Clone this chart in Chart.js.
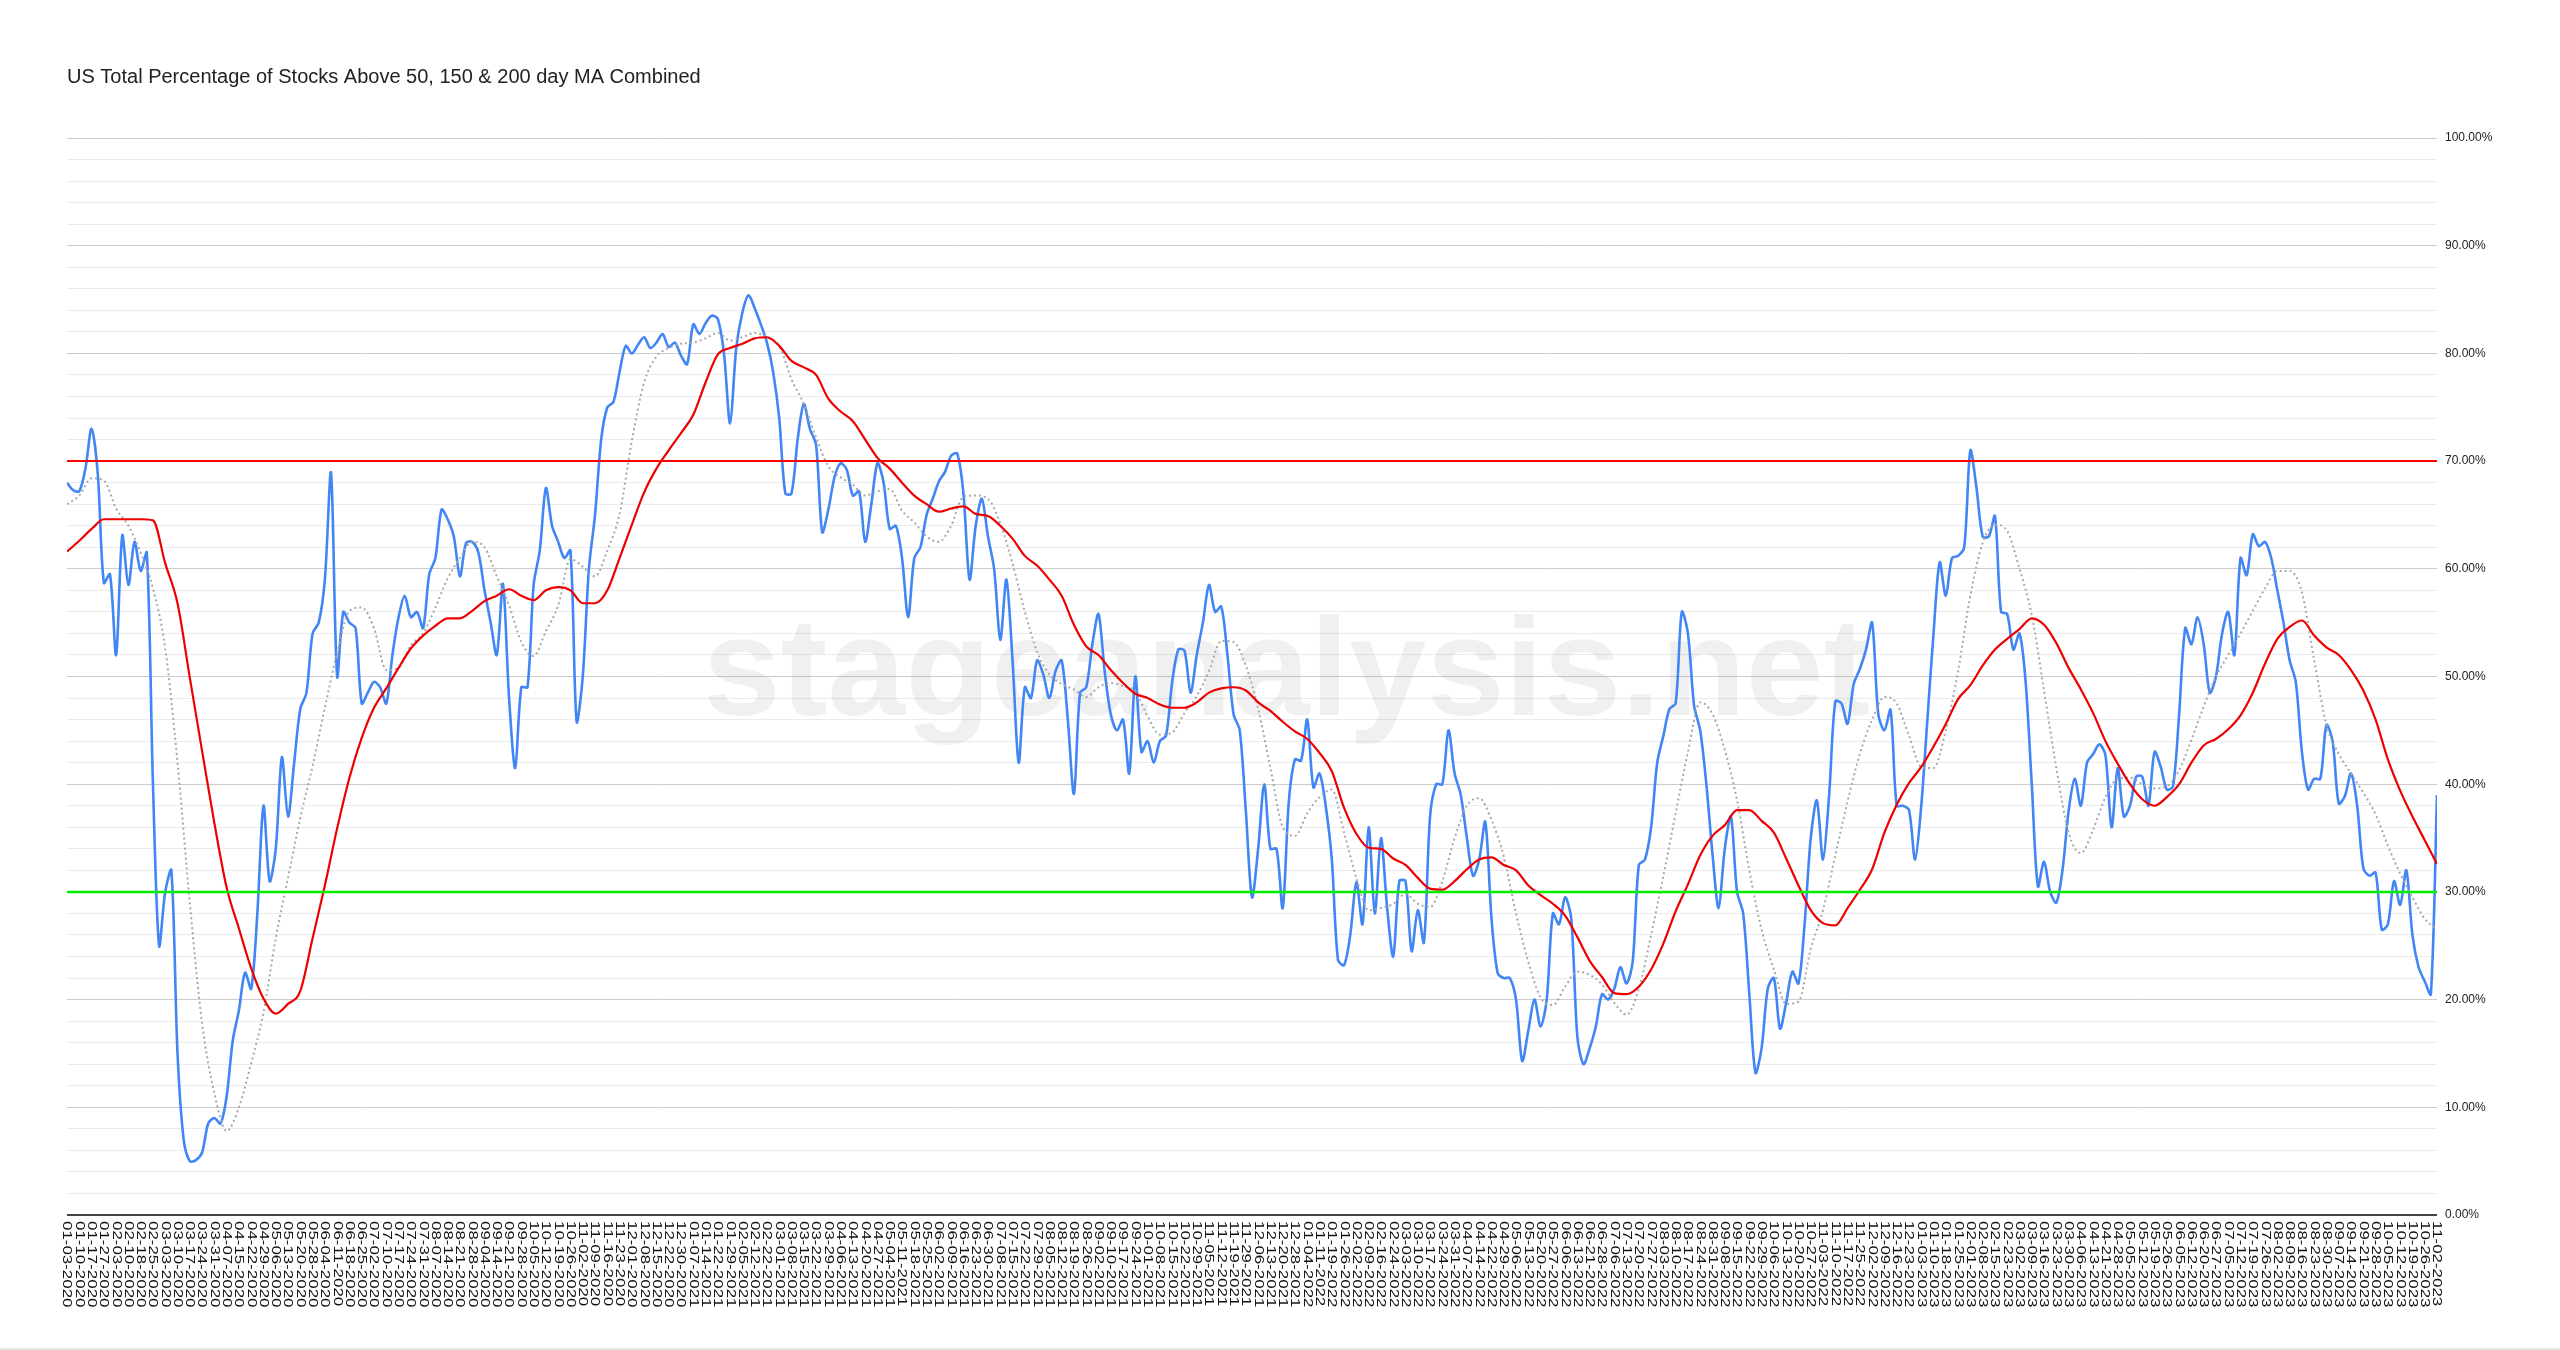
<!DOCTYPE html>
<html>
<head>
<meta charset="utf-8">
<title>US Total Percentage of Stocks Above 50, 150 & 200 day MA Combined</title>
<script src="https://cdn.jsdelivr.net/npm/chart.js@4.4.1/dist/chart.umd.min.js"></script>
<style>
  html, body { margin: 0; padding: 0; background: #fff; }
  canvas { display: block; }
</style>
</head>
<body>
<canvas id="breadthChart" width="2560" height="1350"></canvas>
<script>
// weekly axis labels (every 5th trading day)
const weekLabels = [
  "01-03-2020","01-10-2020","01-17-2020","01-27-2020","02-03-2020","02-10-2020","02-18-2020","02-25-2020","03-03-2020","03-10-2020",
  "03-17-2020","03-24-2020","03-31-2020","04-07-2020","04-15-2020","04-22-2020","04-29-2020","05-06-2020","05-13-2020","05-20-2020",
  "05-28-2020","06-04-2020","06-11-2020","06-18-2020","06-25-2020","07-02-2020","07-10-2020","07-17-2020","07-24-2020","07-31-2020",
  "08-07-2020","08-14-2020","08-21-2020","08-28-2020","09-04-2020","09-14-2020","09-21-2020","09-28-2020","10-05-2020","10-12-2020",
  "10-19-2020","10-26-2020","11-02-2020","11-09-2020","11-16-2020","11-23-2020","12-01-2020","12-08-2020","12-15-2020","12-22-2020",
  "12-30-2020",
  "01-07-2021","01-14-2021","01-22-2021","01-29-2021","02-05-2021","02-12-2021","02-22-2021","03-01-2021","03-08-2021","03-15-2021",
  "03-22-2021","03-29-2021","04-06-2021","04-13-2021","04-20-2021","04-27-2021","05-04-2021","05-11-2021","05-18-2021","05-25-2021",
  "06-02-2021","06-09-2021","06-16-2021","06-23-2021","06-30-2021","07-08-2021","07-15-2021","07-22-2021","07-29-2021","08-05-2021",
  "08-12-2021","08-19-2021","08-26-2021","09-02-2021","09-10-2021","09-17-2021","09-24-2021","10-01-2021","10-08-2021","10-15-2021",
  "10-22-2021","10-29-2021","11-05-2021","11-12-2021","11-19-2021","11-29-2021","12-06-2021","12-13-2021","12-20-2021","12-28-2021",
  "01-04-2022","01-11-2022","01-19-2022","01-26-2022","02-02-2022","02-09-2022","02-16-2022","02-24-2022","03-03-2022","03-10-2022",
  "03-17-2022","03-24-2022","03-31-2022","04-07-2022","04-14-2022","04-22-2022","04-29-2022","05-06-2022","05-13-2022","05-20-2022",
  "05-27-2022","06-06-2022","06-13-2022","06-21-2022","06-28-2022","07-06-2022","07-13-2022","07-20-2022","07-27-2022","08-03-2022",
  "08-10-2022","08-17-2022","08-24-2022","08-31-2022","09-08-2022","09-15-2022","09-22-2022","09-29-2022","10-06-2022","10-13-2022",
  "10-20-2022","10-27-2022","11-03-2022","11-10-2022","11-17-2022","11-25-2022","12-02-2022","12-09-2022","12-16-2022","12-23-2022",
  "01-03-2023","01-10-2023","01-18-2023","01-25-2023","02-01-2023","02-08-2023","02-15-2023","02-23-2023","03-02-2023","03-09-2023",
  "03-16-2023","03-23-2023","03-30-2023","04-06-2023","04-13-2023","04-21-2023","04-28-2023","05-05-2023","05-12-2023","05-19-2023",
  "05-26-2023","06-05-2023","06-12-2023","06-20-2023","06-27-2023","07-05-2023","07-12-2023","07-19-2023","07-26-2023","08-02-2023",
  "08-09-2023","08-16-2023","08-23-2023","08-30-2023","09-07-2023","09-14-2023","09-21-2023","09-28-2023","10-05-2023","10-12-2023",
  "10-19-2023","10-26-2023","11-02-2023"
];

const breadth2020 = [
  68.0, 67.3, 67.2, 69.3, 73, 68.9, 58.7, 59.5, 52, 63.1,
  58.5, 62.5, 59.8, 61.5, 40, 25, 30, 32, 15, 7,
  5, 5.1, 5.8, 8.5, 9, 8.5, 11, 16.2, 19, 22.5,
  21, 28, 38, 31, 34, 42.5, 37, 42, 47, 48.5,
  54, 55, 59, 68.9, 50, 56, 55, 54.5, 47.5, 48.5,
  49.5, 49, 47.5, 52, 55.5, 57.5, 55.5, 56, 54.5, 59.5,
  61, 65.5, 64.6, 63, 59.3, 62.4, 62.5, 61.5, 58, 55,
  52, 58.6, 48, 41.5, 49, 49, 58.5, 61.7, 67.5, 64,
  62.5, 61, 61.7, 45.8, 50, 60, 65, 72, 75, 75.5,
  78.3, 80.7, 80, 80.8, 81.5, 80.5, 81, 81.8, 80.6, 81,
  79.8, 79
];
const breadth2021 = [
  82.7, 81.8, 82.8, 83.5, 83.2, 80, 73.5, 80.5,
  83.8, 85.4, 84.2, 82.7, 81, 78.3, 74, 67, 67, 72,
  75.3, 73, 71.5, 63.4, 65.5, 68.5, 69.8, 69.2, 66.8, 67.2,
  62.5, 66, 69.8, 68, 63.7, 64, 61, 55.5, 61, 62,
  65, 66.5, 68.1, 69, 70.5, 70.7, 67, 59, 64, 66.5,
  63, 60, 53.4, 59, 51.5, 42, 49, 48, 51.5, 50.2,
  48, 50.5, 51.5, 46, 39.1, 48.5, 49, 53, 55.8, 50.5,
  46.5, 45, 46, 41, 50, 43, 44, 42, 44, 44.5,
  49.5, 52.5, 52.4, 48.5, 52, 55, 58.5, 56, 56.5, 52,
  46.5, 45, 37.5, 29.5, 34, 40, 34, 34, 28.5, 38.4,
  42.3, 42.2
];
const breadth2022 = [
  46, 39.7, 41, 38, 33, 23.7, 23.2, 26,
  30.9, 27, 36, 28, 35, 28.6, 24, 31, 31, 24.5,
  28.3, 25.3, 37, 40, 40, 45, 41, 39, 35, 31.5,
  33, 36.5, 27.6, 22.5, 22, 22, 20, 14.3, 17.1, 20,
  17.5, 20, 28, 27, 29.5, 27.5, 16.5, 14, 15.5, 17.5,
  20.5, 20, 21, 23, 21.5, 23.5, 32.5, 33, 36, 42,
  44.5, 47, 47.5, 56, 54, 47.3, 45, 40, 33.5, 28.5,
  34, 37, 30, 28, 20.5, 13.2, 15.5, 21, 22, 17.3,
  19.7, 22.6, 21.5, 27, 35, 38.5, 33, 39, 47.7, 47.5,
  45.6, 49.3, 50.7, 52.5, 55, 46.5, 45, 46.9, 38, 38,
  37.6, 33
];
const breadth2023 = [
  38, 46, 54, 60.6, 57.5, 61, 61.2, 62,
  71, 67.5, 63, 63, 64.9, 56, 55.8, 52.5, 54, 49.5,
  40, 30.5, 32.8, 30, 29, 32, 37.5, 40.5, 38, 42,
  42.8, 43.7, 42.7, 36, 41.5, 37, 38, 40.7, 40.7, 38,
  43, 41.6, 39.5, 39.8, 46.5, 54.5, 53, 55.5, 53, 48.5,
  50, 54, 56, 52, 61, 59.4, 63.2, 62.1, 62.5, 61,
  58, 55, 51.5, 49.5, 43, 39.5, 40.5, 40.5, 45.5, 44,
  38.2, 38.9, 41, 38, 32.2, 31.5, 31.8, 26.5, 27, 31,
  28.8, 32, 26, 23, 21.7, 20.5, 39
];

// short moving average (grey dotted), one value per labelled week
const fastMA = [
  66, 66.8, 68.4, 68.2, 65.6, 64, 61.5, 58.2, 52.6, 42,
  29, 17.8, 11.3, 7.8, 10, 14.1, 18.8, 25.7, 31.3, 36.9,
  41.7, 47.1, 52.2, 56.1, 56.4, 54.5, 50.6, 50.8, 52.9, 54,
  56.4, 59.1, 61, 62.5, 62, 59.3, 56.6, 53.2, 51.9, 54.2,
  56.6, 60.9, 60.2, 59.3, 61.7, 65.1, 71.9, 77.3, 79.7, 80.5,
  80.9,
  81, 81.4, 81.9, 81.2, 81.5, 81.9, 81.5, 80.7, 77.6, 75.3,
  72.2, 69.5, 68.5, 67.8, 66.8, 67.2, 67.4, 65.4, 64.3, 63,
  62.5, 64, 66.7, 66.8, 66.5, 64.2, 60.5, 56, 52.3, 50.2,
  49.3, 48.8, 48.1, 49, 49.4, 49.1, 48.6, 46.3, 44.6, 44.8,
  46.6, 48.2, 50.5, 53.3, 53.2, 51, 47, 41.5, 36, 35.2,
  37.3, 38.8, 39.5, 35.5, 31.3, 28.3, 28.5, 28.9, 29.8, 28.9,
  28.6, 31, 35, 38, 38.7, 36.7, 33.3, 28, 23.5, 20.2,
  19.5, 21.2, 22.6, 22.3, 21.4, 19.7, 18.6, 21, 26, 31.5,
  37.3, 43, 47.6, 46.5, 43.2, 38.5, 32, 26.5, 22.8, 19.6,
  19.8, 24.7, 28.3, 33.4, 38.4, 42.8, 46, 48.1, 47.5, 44.5,
  41.6, 41.5, 45, 50.5, 57.5, 62.4, 64.1, 63.5, 60, 55.7,
  48.7, 41.5, 35.5, 33.6, 35.8, 38.8, 40.5, 40.6, 40, 39.6,
  39.8, 41.3, 44.1, 47.2, 50, 52, 54, 56.1, 58.2, 59.8,
  59.8, 57.8, 51.5, 45.5, 42.8, 41, 39.2, 37.2, 34.3, 31.7,
  29.5, 27.5, 26.5
];

// long moving average (red), one value per labelled week
const slowMA = [
  61.6, 62.6, 63.7, 64.6, 64.6, 64.6, 64.6, 64.5, 60.5, 56.8,
  49.9, 43.1, 36.4, 30.4, 26.6, 22.9, 20.1, 18.7, 19.6, 20.8,
  25.7, 30.6, 35.9, 40.6, 44.3, 47.1, 48.9, 50.8, 52.6, 53.8,
  54.7, 55.4, 55.4, 56.1, 57, 57.5, 58.1, 57.5, 57.1, 58,
  58.3, 58, 56.8, 56.8, 58, 61, 64.1, 67.1, 69.3, 71,
  72.6,
  74.3, 77.3, 79.9, 80.5, 80.9, 81.4, 81.5, 80.7, 79.3, 78.7,
  78, 75.8, 74.6, 73.7, 72, 70.3, 69.3, 68, 66.8, 66,
  65.3, 65.6, 65.8, 65.1, 64.9, 64, 62.8, 61.2, 60.3, 59,
  57.5, 54.8, 52.8, 52, 50.6, 49.4, 48.4, 48, 47.4, 47.1,
  47.1, 47.6, 48.5, 48.9, 49, 48.7, 47.6, 46.8, 45.8, 44.9,
  44.2, 42.9, 41.2, 37.8, 35.4, 34.1, 34, 33.1, 32.5, 31.3,
  30.3, 30.2, 31, 32.1, 33, 33.2, 32.5, 32, 30.6, 29.7,
  28.9, 27.8, 25.8, 23.6, 22.1, 20.6, 20.5, 21.2, 22.8, 25.2,
  28.2, 30.7, 33.4, 35.2, 36.2, 37.6, 37.6, 36.6, 35.5, 33.1,
  30.6, 28.3, 27.1, 26.9, 28.5, 30.2, 32.1, 35.5, 38.1, 40.1,
  41.6, 43.5, 45.6, 47.9, 49.2, 51, 52.5, 53.5, 54.4, 55.4,
  54.8, 53.1, 50.8, 48.8, 46.6, 44, 41.9, 40, 38.6, 38,
  38.8, 40, 42, 43.6, 44.2, 45.1, 46.4, 48.5, 51.2, 53.5,
  54.6, 55.2, 53.8, 52.7, 52, 50.6, 48.7, 46, 42.3, 39.4,
  37, 34.8, 32.6
];

const upperLevel = 70;
const lowerLevel = 30;

const breadth = [...breadth2020, ...breadth2021, ...breadth2022, ...breadth2023];
const lastWeek = weekLabels.length - 1;

const fontFamily = '"Liberation Sans", Arial, Helvetica, sans-serif';

const overlay = {
  id: "overlay",
  beforeDatasetsDraw(chart) {
    const { ctx, chartArea } = chart;
    ctx.save();
    ctx.font = "bold 140px " + fontFamily;
    ctx.fillStyle = "rgba(0, 0, 0, 0.06)";
    ctx.textAlign = "left";
    ctx.textBaseline = "alphabetic";
    ctx.fillText("stageanalysis.net", chartArea.left + 636, chartArea.top + 577);
    ctx.restore();
  },
  afterDraw(chart) {
    const { ctx, chartArea } = chart;
    const xScale = chart.scales.x;
    ctx.save();
    ctx.font = "13px " + fontFamily;
    ctx.fillStyle = "#111";
    ctx.textAlign = "left";
    ctx.textBaseline = "middle";
    weekLabels.forEach((label, i) => {
      const x = xScale.getPixelForValue(i);
      ctx.save();
      ctx.translate(x, chartArea.bottom + 6);
      ctx.rotate(Math.PI / 2);
      ctx.scale(1.3, 1);
      ctx.fillText(label, 0, 0);
      ctx.restore();
    });
    // thin frame line at the bottom of the image
    ctx.strokeStyle = "#e4e4e4";
    ctx.lineWidth = 2;
    ctx.beginPath();
    ctx.moveTo(0, chart.height - 1);
    ctx.lineTo(chart.width, chart.height - 1);
    ctx.stroke();
    ctx.restore();
  },
};

const container = document.getElementById("breadthChart");

new Chart(container, {
  type: "line",
  data: {
    datasets: [
      {
        label: "70% level",
        data: [{ x: 0, y: upperLevel }, { x: lastWeek, y: upperLevel }],
        borderColor: "#ff0000",
        borderWidth: 2,
        pointRadius: 0,
        order: 0,
      },
      {
        label: "30% level",
        data: [{ x: 0, y: lowerLevel }, { x: lastWeek, y: lowerLevel }],
        borderColor: "#00f000",
        borderWidth: 2.5,
        pointRadius: 0,
        order: 0,
      },
      {
        label: "Long MA",
        data: slowMA.map((v, i) => ({ x: i, y: v })),
        borderColor: "#ee0000",
        borderWidth: 2.2,
        pointRadius: 0,
        cubicInterpolationMode: "monotone",
        order: 1,
      },
      {
        label: "Short MA",
        data: fastMA.map((v, i) => ({ x: i, y: v })),
        borderColor: "#a8a8a8",
        borderWidth: 2,
        borderDash: [2, 3],
        pointRadius: 0,
        cubicInterpolationMode: "monotone",
        order: 2,
      },
      {
        label: "% above 50/150/200 MA",
        data: breadth.map((v, i) => ({ x: i / 2, y: v })),
        borderColor: "#4285f4",
        borderWidth: 2.6,
        pointRadius: 0,
        tension: 0.3,
        order: 3,
      },
    ],
  },
  options: {
    responsive: false,
    animation: false,
    devicePixelRatio: 1,
    layout: {
      padding: { left: 67, right: 0, top: 0, bottom: 0 },
    },
    plugins: {
      legend: { display: false },
      tooltip: { enabled: false },
      title: {
        display: true,
        text: "US Total Percentage of Stocks Above 50, 150 & 200 day MA Combined",
        align: "start",
        color: "#222",
        font: { family: fontFamily, size: 20, weight: "normal" },
        padding: { top: 65, bottom: 49 },
      },
    },
    scales: {
      x: {
        type: "linear",
        min: 0,
        max: lastWeek,
        grid: { display: false },
        border: { display: false },
        ticks: { display: false },
        afterFit: (scale) => {
          scale.height = 135;
        },
      },
      y: {
        position: "right",
        min: 0,
        max: 100,
        border: { display: false },
        grid: {
          drawTicks: false,
          color: (c) => {
            const v = Math.round(c.tick.value);
            if (v === 0) return "#444";
            return v % 10 === 0 ? "#cccccc" : "#ebebeb";
          },
          lineWidth: (c) => (Math.round(c.tick.value) === 0 ? 2 : 1),
        },
        ticks: {
          stepSize: 2,
          autoSkip: false,
          padding: 8,
          color: "#222",
          font: { family: fontFamily, size: 12 },
          callback: (value) => {
            const v = Math.round(value);
            return v % 10 === 0 ? v.toFixed(2) + "%" : "";
          },
        },
        afterFit: (scale) => {
          scale.width = 123;
        },
      },
    },
  },
  plugins: [overlay],
});
</script>
</body>
</html>
